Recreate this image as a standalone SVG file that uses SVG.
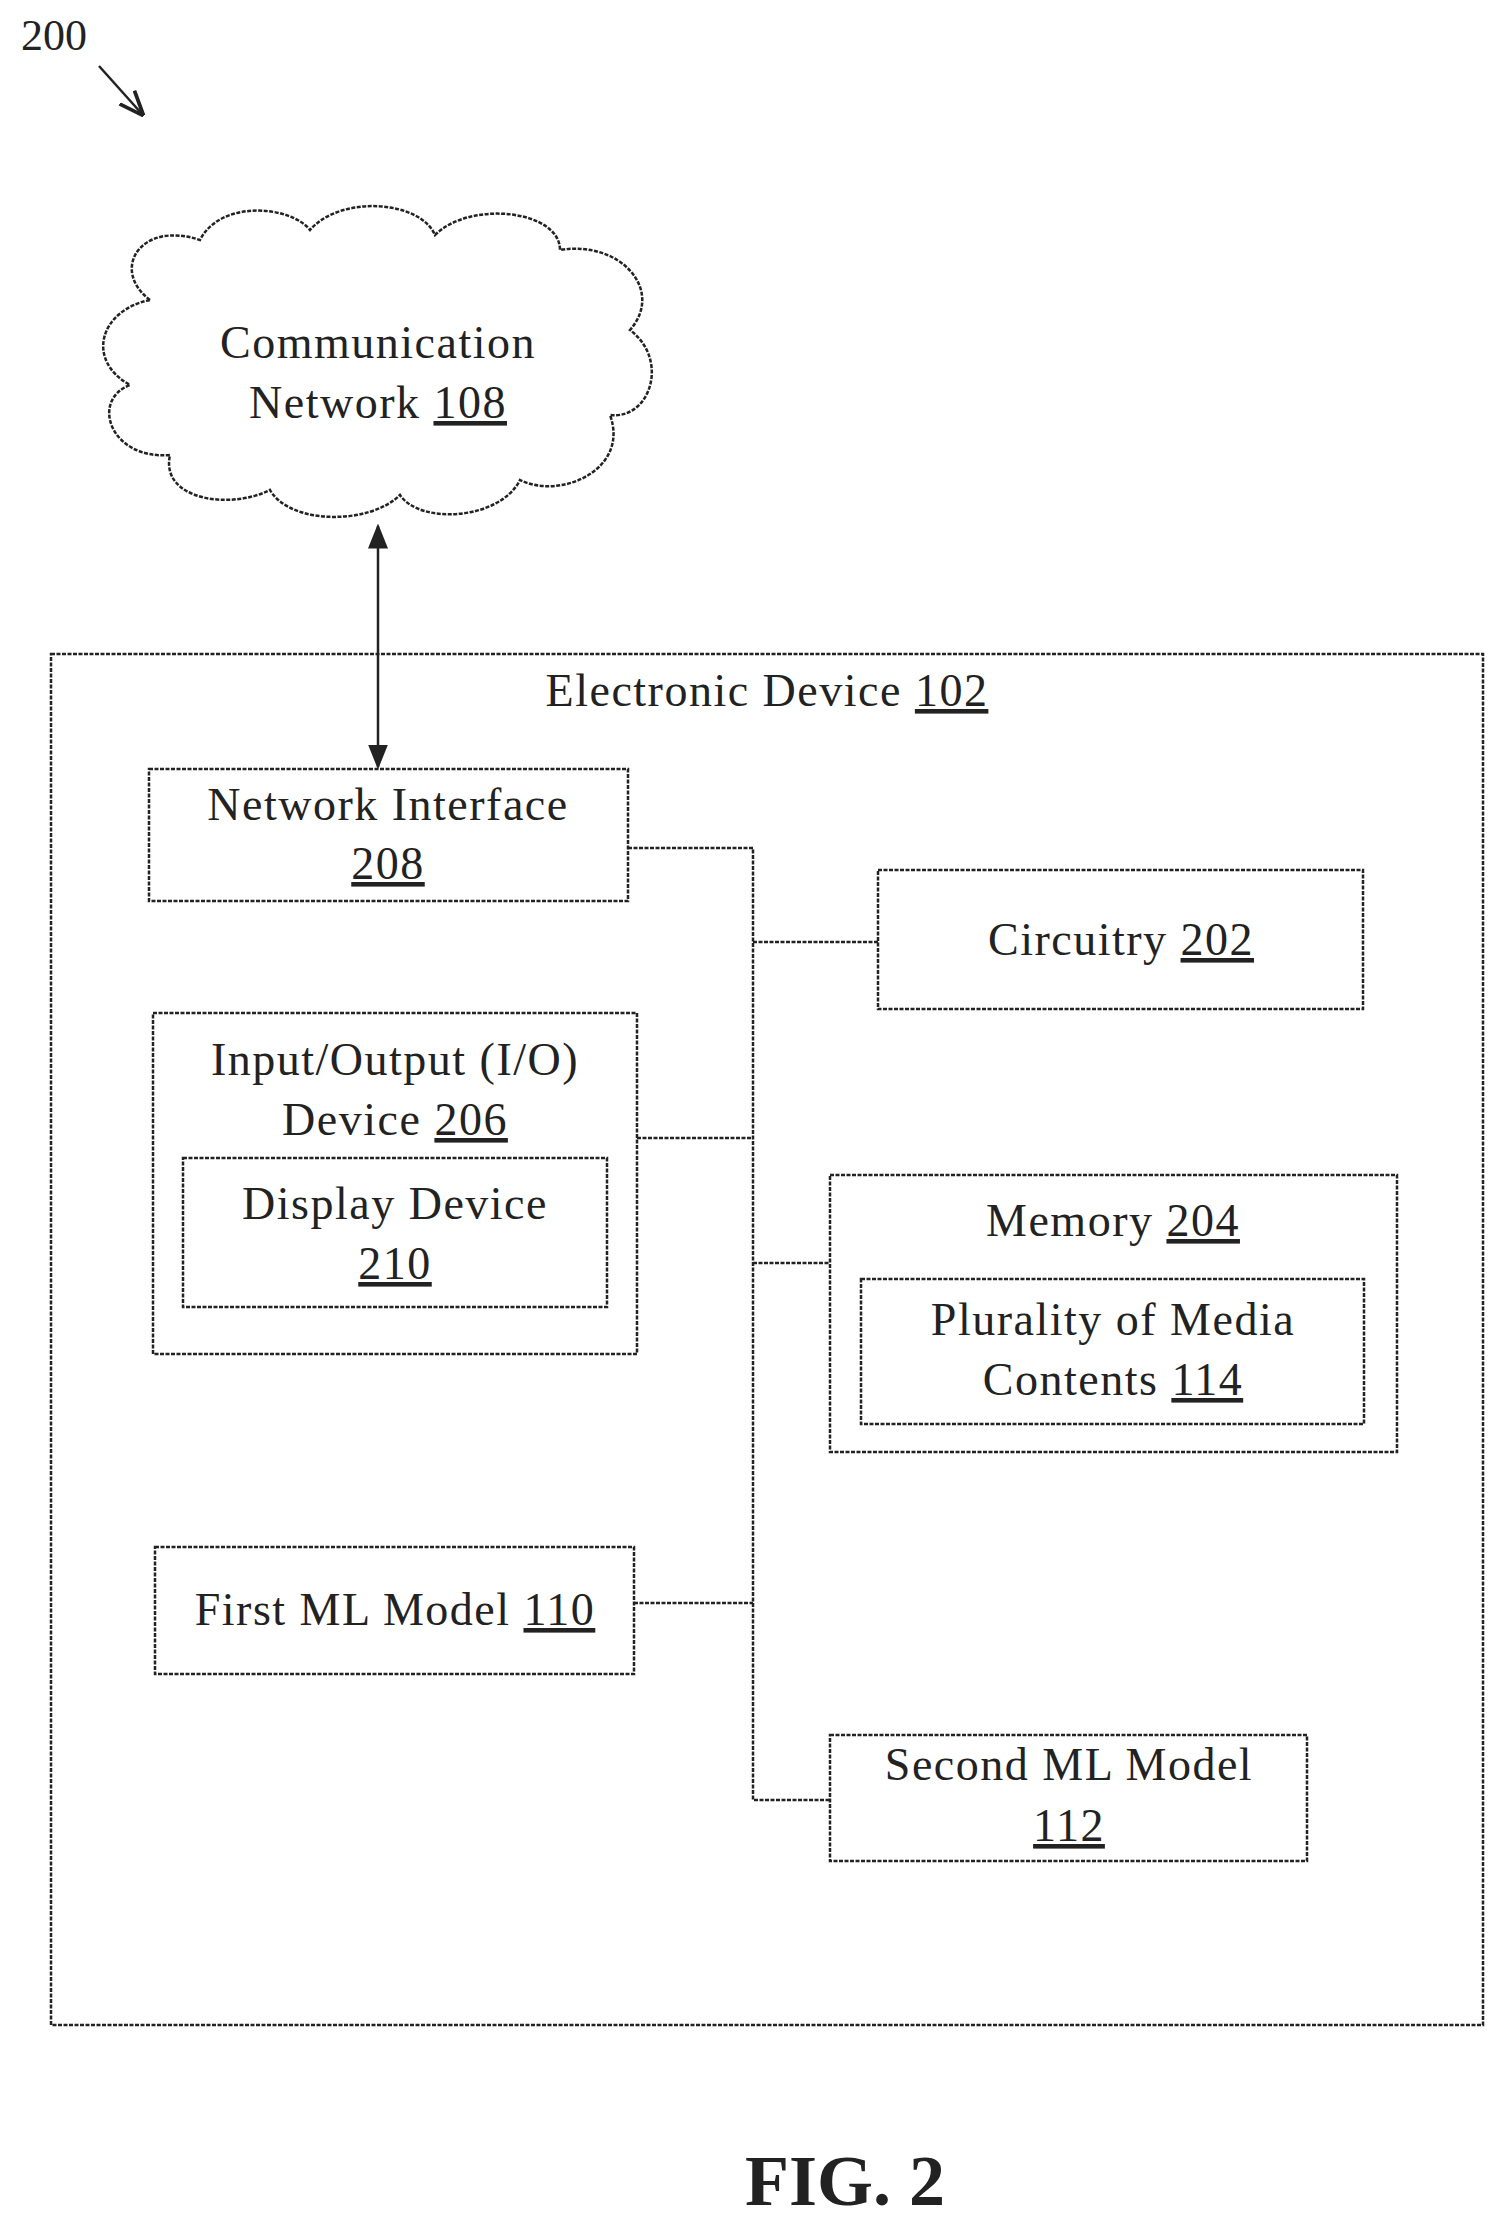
<svg xmlns="http://www.w3.org/2000/svg" width="1499" height="2220" viewBox="0 0 1499 2220">
<style>
.b{fill:none;stroke:#222;stroke-width:2.5;stroke-dasharray:4,1.5}
.c{fill:none;stroke:#222;stroke-width:2.5}
text{font-family:"Liberation Serif",serif;font-size:46px;letter-spacing:1.5px;fill:#222;text-anchor:middle}
.u{text-decoration:underline}
</style>
<defs>
<marker id="a" viewBox="0 0 10 10" refX="9" refY="5" markerWidth="10" markerHeight="10" orient="auto-start-reverse"><path d="M0,1 L10,5 L0,9 z" fill="#222"/></marker>
<marker id="o" viewBox="0 0 10 10" refX="9" refY="5" markerWidth="10" markerHeight="10" orient="auto"><path d="M0,1 L10,5 L0,9" fill="none" stroke="#222" stroke-width="1.5"/></marker>
</defs>
<g id="label200"><text x="54" y="50" text-anchor="middle" style="font-size:44px;letter-spacing:0">200</text>
<line x1="99" y1="66" x2="142" y2="114" class="c" marker-end="url(#o)"/></g>
<g id="cloud">
<path class="b" d="M150,300 C110,270 140,220 200,240 C220,200 290,205 310,230 C340,195 420,200 435,235 C470,200 560,210 560,250 C620,240 665,290 630,330 C670,360 650,420 610,415 C630,470 560,500 520,480 C500,520 420,525 400,495 C370,525 290,525 270,490 C230,510 160,500 170,455 C110,460 90,400 130,385 C85,360 100,310 150,300 Z"/>
<text x="378" y="358">Communication</text>
<text x="378" y="418">Network <tspan class="u">108</tspan></text>
</g>
<g id="device">
<rect class="b" x="51" y="654" width="1432" height="1371"/>
<text x="767" y="706">Electronic Device <tspan class="u">102</tspan></text>
</g>
<g id="ni"><rect class="b" x="149" y="769" width="479" height="132"/>
<text x="388" y="820">Network Interface</text><text x="388" y="879" class="u">208</text></g>
<g id="circ"><rect class="b" x="878" y="870" width="485" height="139"/>
<text x="1121" y="955">Circuitry <tspan class="u">202</tspan></text></g>
<g id="io"><rect class="b" x="153" y="1013" width="484" height="341"/>
<text x="395" y="1075">Input/Output (I/O)</text><text x="395" y="1135">Device <tspan class="u">206</tspan></text></g>
<g id="disp"><rect class="b" x="183" y="1158" width="424" height="149"/>
<text x="395" y="1219">Display Device</text><text x="395" y="1279" class="u">210</text></g>
<g id="mem"><rect class="b" x="830" y="1175" width="567" height="277"/>
<text x="1113" y="1236">Memory <tspan class="u">204</tspan></text></g>
<g id="plur"><rect class="b" x="861" y="1279" width="503" height="145"/>
<text x="1113" y="1335">Plurality of Media</text><text x="1113" y="1395">Contents <tspan class="u">114</tspan></text></g>
<g id="ml1"><rect class="b" x="155" y="1547" width="479" height="127"/>
<text x="395" y="1625">First ML Model <tspan class="u">110</tspan></text></g>
<g id="ml2"><rect class="b" x="830" y="1735" width="477" height="126"/>
<text x="1069" y="1780">Second ML Model</text><text x="1069" y="1841" class="u">112</text></g>
<g id="connectors">
<line class="c" x1="378" y1="526" x2="378" y2="767" marker-start="url(#a)" marker-end="url(#a)"/>
<polyline class="b" points="628,848 753,848 753,1800 830,1800"/>
<line class="b" x1="753" y1="942" x2="878" y2="942"/>
<line class="b" x1="637" y1="1138" x2="753" y2="1138"/>
<line class="b" x1="753" y1="1263" x2="830" y2="1263"/>
<line class="b" x1="634" y1="1603" x2="753" y2="1603"/>
</g>
<text x="845" y="2205" style="font-size:72px;font-weight:bold;letter-spacing:0">FIG. 2</text>
</svg>
